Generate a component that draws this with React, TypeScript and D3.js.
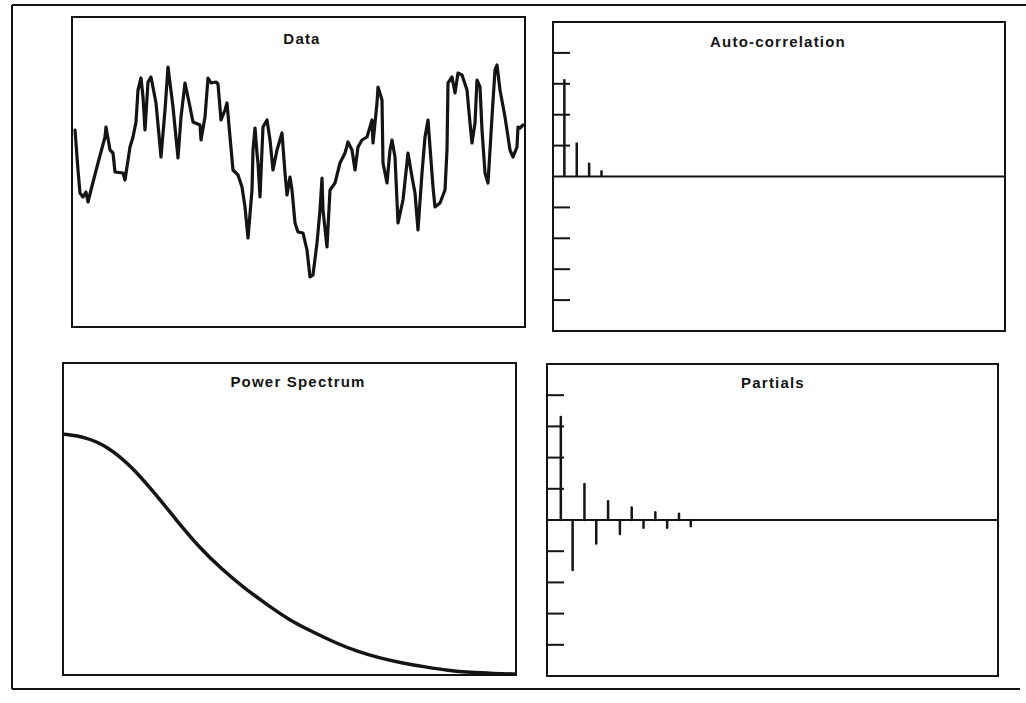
import React from 'react';
import * as d3 from 'd3';

// ---- Data series (time step, value) ----
const dataTime = [3,6,8,11,14,16,19,26,33,34,38,41,43,51,53,58,61,64,66,69,71,73,76,79,84,89,93,96,101,106,109,113,118,121,128,129,133,136,139,144,146,149,153,155,158,161,166,170,173,176,180,181,183,185,186,188,190,191,195,198,201,205,210,213,215,218,220,223,226,231,235,238,241,245,248,250,251,255,258,263,268,273,276,280,283,286,290,295,298,300,301,305,306,310,311,315,318,320,323,326,331,336,340,343,346,350,353,356,358,361,363,368,373,375,376,380,383,386,390,395,398,400,403,405,408,410,413,416,420,423,425,428,433,438,441,445,446,448,451];
const dataValue = [197,157,134,130,135,125,137,164,190,200,177,174,155,154,147,180,190,205,237,249,230,197,245,250,224,170,217,260,220,169,210,244,220,205,202,187,210,249,244,245,243,207,217,224,190,157,152,140,120,89,137,177,199,174,164,130,177,200,207,187,157,177,194,154,132,150,137,104,95,94,77,50,52,84,117,149,117,80,137,144,164,174,185,177,157,180,187,190,200,207,184,224,240,227,164,144,177,187,170,104,127,174,150,134,97,154,190,207,180,140,120,124,137,177,244,250,234,254,252,237,204,184,204,247,240,197,154,144,210,257,262,237,210,177,170,180,200,199,202];

// ---- Power spectrum ----
const specFreq = [0,0.025,0.05,0.075,0.1,0.125,0.15,0.175,0.2,0.225,0.25,0.275,0.3,0.325,0.35,0.375,0.4,0.425,0.45,0.475,0.5];
const specPower = [0.772,0.763,0.731,0.67,0.587,0.497,0.41,0.34,0.279,0.226,0.176,0.139,0.104,0.075,0.054,0.038,0.026,0.014,0.008,0.005,0.003];

// ---- Auto-correlation ----
const acfLag = [1,2,3,4];
const acfValue = [0.63,0.22,0.09,0.04];

// ---- Partial auto-correlation ----
const pacfLag = [1,2,3,4,5,6,7,8,9,10,11,12];
const pacfValue = [0.66,-0.32,0.23,-0.15,0.12,-0.09,0.08,-0.05,0.05,-0.05,0.04,-0.04];

const corrTicks = [-0.8,-0.6,-0.4,-0.2,0.2,0.4,0.6,0.8];

const titles = ['Data', 'Auto-correlation', 'Power Spectrum', 'Partials'];

const ink = '#141414';
const fontStyle = {
  fontFamily: '"Liberation Sans", Arial, sans-serif',
  fontWeight: 700,
  fontSize: 15,
  letterSpacing: 1.2,
} as const;

export default function App() {
  const P = {
    data: { x0: 72, x1: 525, y0: 17, y1: 327 },
    acf: { x0: 553, x1: 1005, y0: 22, y1: 331 },
    spec: { x0: 63, x1: 516, y0: 363, y1: 675 },
    pacf: { x0: 547, x1: 998, y0: 364, y1: 676 },
  };

  // Data panel
  const dx = d3.scaleLinear().domain([0, 453]).range([P.data.x0, P.data.x1]);
  const dy = d3.scaleLinear().domain([0, 310]).range([P.data.y1, P.data.y0]);
  const dataLine = d3
    .line<number>()
    .x((_, i) => dx(dataTime[i]))
    .y((v) => dy(v))(dataValue) || '';

  // Autocorrelation panel
  const ax = d3.scaleLinear().domain([0, 36.6]).range([P.acf.x0 - 1, P.acf.x1]);
  const ay = d3.scaleLinear().domain([-1, 1]).range([P.acf.y1, P.acf.y0]);

  // Spectrum panel
  const sx = d3.scaleLinear().domain([0, 0.5]).range([P.spec.x0, P.spec.x1]);
  const sy = d3.scaleLinear().domain([0, 1]).range([P.spec.y1, P.spec.y0]);
  const specLine = d3
    .line<number>()
    .x((_, i) => sx(specFreq[i]))
    .y((v) => sy(v))
    .curve(d3.curveBasis)(specPower) || '';

  // Partials panel
  const px = d3.scaleLinear().domain([0, 38]).range([P.pacf.x0 + 2, P.pacf.x1]);
  const py = d3.scaleLinear().domain([-1, 1]).range([P.pacf.y1, P.pacf.y0]);

  const frame = (p: { x0: number; x1: number; y0: number; y1: number }, key: string) => (
    <rect
      key={key}
      x={p.x0}
      y={p.y0}
      width={p.x1 - p.x0}
      height={p.y1 - p.y0}
      fill="none"
      stroke={ink}
      strokeWidth={2}
    />
  );

  return (
    <svg
      width={1026}
      height={703}
      style={{ position: 'absolute', left: 0, top: 0, background: '#fff' }}
    >
      <rect x={0} y={0} width={1026} height={703} fill="#fff" />
      {/* outer frame */}
      <line x1={12} y1={5} x2={1026} y2={5} stroke={ink} strokeWidth={2} />
      <line x1={12} y1={5} x2={12} y2={689} stroke={ink} strokeWidth={2} />
      <line x1={12} y1={689} x2={1020} y2={689} stroke={ink} strokeWidth={2} />

      {/* Data */}
      {frame(P.data, 'fd')}
      <text x={302} y={44} textAnchor="middle" fill={ink} style={fontStyle}>{titles[0]}</text>
      <path d={dataLine} fill="none" stroke={ink} strokeWidth={3.2} strokeLinejoin="round" strokeLinecap="round" />

      {/* Auto-correlation */}
      {frame(P.acf, 'fa')}
      <text x={778} y={47} textAnchor="middle" fill={ink} style={fontStyle}>{titles[1]}</text>
      <line x1={P.acf.x0} x2={P.acf.x1} y1={ay(0)} y2={ay(0)} stroke={ink} strokeWidth={2} />
      {corrTicks.map((t) => (
        <line key={'at' + t} x1={P.acf.x0} x2={P.acf.x0 + 17} y1={ay(t)} y2={ay(t)} stroke={ink} strokeWidth={2} />
      ))}
      {acfLag.map((l, i) => (
        <line key={'ab' + l} x1={ax(l)} x2={ax(l)} y1={ay(0)} y2={ay(acfValue[i])} stroke={ink} strokeWidth={2.5} />
      ))}

      {/* Power Spectrum */}
      {frame(P.spec, 'fs')}
      <text x={298} y={387} textAnchor="middle" fill={ink} style={fontStyle}>{titles[2]}</text>
      <path d={specLine} fill="none" stroke={ink} strokeWidth={3.5} strokeLinejoin="round" />

      {/* Partials */}
      {frame(P.pacf, 'fp')}
      <text x={773} y={388} textAnchor="middle" fill={ink} style={fontStyle}>{titles[3]}</text>
      <line x1={P.pacf.x0} x2={P.pacf.x1} y1={py(0)} y2={py(0)} stroke={ink} strokeWidth={2} />
      {corrTicks.map((t) => (
        <line key={'pt' + t} x1={P.pacf.x0} x2={P.pacf.x0 + 17} y1={py(t)} y2={py(t)} stroke={ink} strokeWidth={2} />
      ))}
      {pacfLag.map((l, i) => (
        <line key={'pb' + l} x1={px(l)} x2={px(l)} y1={py(0)} y2={py(pacfValue[i])} stroke={ink} strokeWidth={2.5} strokeLinecap="round" />
      ))}
    </svg>
  );
}
